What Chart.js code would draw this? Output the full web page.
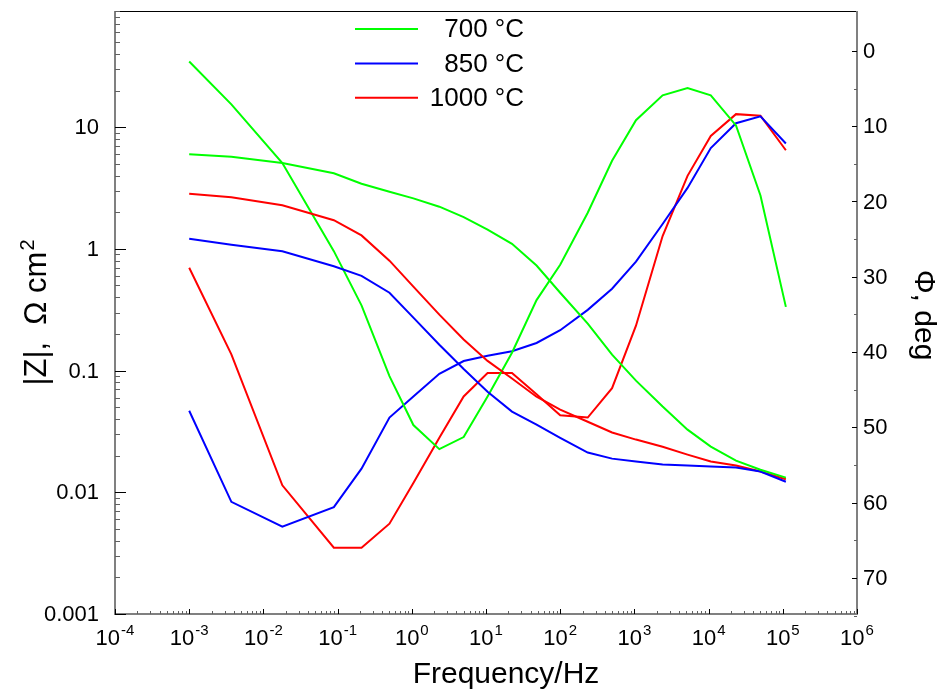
<!DOCTYPE html>
<html>
<head>
<meta charset="utf-8">
<script src="https://cdn.jsdelivr.net/npm/chart.js@4"></script>
<style>
  body { margin: 0; background: #fff; }
  canvas { display: block; }
</style>
</head>
<body>
<canvas id="bodeChart" width="946" height="693"></canvas>
<script>
// frequencies (Hz)
const freqs = [0.001, 0.0037, 0.018, 0.089, 0.21, 0.5, 1.05, 2.35, 5, 10.5, 22.4, 48, 100, 235, 500, 1050, 2400, 5200, 10700, 23400, 50000, 110000];

// |Z|, ohm cm2
const z700 = [6.0, 5.7, 5.08, 4.18, 3.43, 2.95, 2.60, 2.22, 1.82, 1.44, 1.10, 0.73, 0.436, 0.243, 0.135, 0.0826, 0.0506, 0.0327, 0.0237, 0.0182, 0.0153, 0.0132];
const z850 = [1.21, 1.08, 0.955, 0.72, 0.60, 0.436, 0.272, 0.163, 0.103, 0.067, 0.046, 0.036, 0.028, 0.0212, 0.0189, 0.0179, 0.0169, 0.0166, 0.0163, 0.0160, 0.0148, 0.0122];
const z1000 = [2.83, 2.65, 2.28, 1.72, 1.29, 0.80, 0.49, 0.288, 0.18, 0.12, 0.086, 0.061, 0.0478, 0.038, 0.031, 0.0271, 0.0237, 0.0204, 0.0179, 0.0166, 0.0148, 0.0128];

// phase, deg
const p700 = [1.4, 7.1, 14.9, 26.6, 33.8, 43.2, 49.7, 52.9, 51.3, 45.9, 40.1, 33.1, 28.4, 21.5, 14.6, 9.2, 5.9, 4.95, 5.9, 9.9, 19.2, 34.0];
const p850 = [47.8, 59.9, 63.2, 60.6, 55.5, 48.7, 45.9, 42.9, 41.2, 40.5, 39.9, 38.8, 37.1, 34.4, 31.6, 28.0, 23.0, 18.2, 12.9, 9.6, 8.7, 12.3];
const p1000 = [28.8, 40.3, 57.7, 66.0, 66.0, 62.8, 57.4, 51.4, 45.9, 42.8, 42.8, 45.6, 48.4, 48.7, 44.8, 36.5, 24.6, 16.6, 11.3, 8.4, 8.6, 13.2];

const tempLabels = ['700 °C', '850 °C', '1000 °C'];
const tempColors = ['#00ff00', '#0000ff', '#ff0000'];

// axis ticks
const freqTickExps = [-4, -3, -2, -1, 0, 1, 2, 3, 4, 5, 6];
const zTicks = [0.001, 0.01, 0.1, 1, 10];
const zTickLabels = ['0.001', '0.01', '0.1', '1', '10'];
const phaseTicks = [0, 10, 20, 30, 40, 50, 60, 70];

const FONT = '"Liberation Sans", Arial, sans-serif';

const toPoints = (vals) => vals.map((v, i) => ({ x: freqs[i], y: v }));

const makeSet = (vals, idx, axis) => ({
    label: tempLabels[idx],
    data: toPoints(vals),
    yAxisID: axis,
    borderColor: tempColors[idx],
    backgroundColor: tempColors[idx],
    borderWidth: 2,
    pointRadius: 0,
    tension: 0,
    fill: false
});

// frame, inward ticks, tick labels, titles
const axesPlugin = {
    id: 'bodeAxes',
    afterDraw(chart) {
        const { ctx, chartArea: a, scales } = chart;
        const sx = scales.x, sy = scales.y, sp = scales.y1;
        ctx.save();

        // top border
        ctx.strokeStyle = '#000';
        ctx.lineWidth = 1;
        ctx.beginPath();
        ctx.moveTo(a.left, a.top + 0.5);
        ctx.lineTo(a.right, a.top + 0.5);
        ctx.stroke();

        // left, bottom, right axes
        ctx.strokeStyle = '#808080';
        ctx.lineWidth = 2;
        ctx.beginPath();
        ctx.moveTo(a.left, a.top);
        ctx.lineTo(a.left, a.bottom);
        ctx.lineTo(a.right, a.bottom);
        ctx.lineTo(a.right, a.top);
        ctx.stroke();

        ctx.lineWidth = 1;
        // left log ticks
        for (let e = -3; e <= 1; e++) {
            for (let k = 1; k <= 9; k++) {
                const v = k * Math.pow(10, e);
                if (v > sy.max * 1.0001) continue;
                const y = Math.round(sy.getPixelForValue(v)) + 0.5;
                ctx.strokeStyle = k === 1 ? '#000' : '#606060';
                ctx.beginPath();
                ctx.moveTo(a.left, y);
                ctx.lineTo(a.left + (k === 1 ? 11 : 5), y);
                ctx.stroke();
            }
        }
        // bottom log ticks
        for (let e = -4; e <= 6; e++) {
            for (let k = 1; k <= 9; k++) {
                if (e === 6 && k > 1) continue;
                const x = Math.round(sx.getPixelForValue(k * Math.pow(10, e))) + 0.5;
                ctx.strokeStyle = k === 1 ? '#000' : '#606060';
                ctx.beginPath();
                ctx.moveTo(x, a.bottom);
                ctx.lineTo(x, a.bottom - (k === 1 ? 5 : 3));
                ctx.stroke();
            }
        }
        // right phase ticks
        for (let v = 0; v <= 75; v += 5) {
            const y = Math.round(sp.getPixelForValue(v)) + 0.5;
            ctx.strokeStyle = v % 10 === 0 ? '#000' : '#606060';
            ctx.beginPath();
            ctx.moveTo(a.right, y);
            ctx.lineTo(a.right - (v % 10 === 0 ? 5 : 3), y);
            ctx.stroke();
        }

        ctx.fillStyle = '#000';
        // left labels
        ctx.font = '22px ' + FONT;
        ctx.textAlign = 'right';
        ctx.textBaseline = 'middle';
        zTicks.forEach((v, i) => {
            ctx.fillText(zTickLabels[i], a.left - 16, sy.getPixelForValue(v) + 1);
        });
        // right labels
        ctx.textAlign = 'left';
        phaseTicks.forEach((v) => {
            ctx.fillText(String(v), a.right + 6, sp.getPixelForValue(v) + 1);
        });
        // bottom labels, 10 with superscript exponent
        ctx.textBaseline = 'alphabetic';
        freqTickExps.forEach((e) => {
            const x = sx.getPixelForValue(Math.pow(10, e));
            ctx.font = '22px ' + FONT;
            const wb = ctx.measureText('10').width;
            ctx.font = '15px ' + FONT;
            const we = ctx.measureText(String(e)).width;
            const x0 = x - (wb + we + 1) / 2;
            ctx.font = '22px ' + FONT;
            ctx.textAlign = 'left';
            ctx.fillText('10', x0, a.bottom + 31);
            ctx.font = '15px ' + FONT;
            ctx.fillText(String(e), x0 + wb + 1, a.bottom + 21);
        });

        // x title
        ctx.font = '30px ' + FONT;
        ctx.textAlign = 'center';
        ctx.fillText('Frequency/Hz', (a.left + a.right) / 2 + 20, a.bottom + 69);

        // left title, rotated
        ctx.save();
        ctx.translate(35, 313);
        ctx.rotate(-Math.PI / 2);
        ctx.font = '31px ' + FONT;
        const mainT = '|Z|,  \u03A9 cm';
        const wm = ctx.measureText(mainT).width;
        ctx.font = '20px ' + FONT;
        const ws = ctx.measureText('2').width;
        ctx.textAlign = 'left';
        ctx.font = '31px ' + FONT;
        ctx.fillText(mainT, -(wm + ws) / 2, 11);
        ctx.font = '20px ' + FONT;
        ctx.fillText('2', -(wm + ws) / 2 + wm + 1, -1);
        ctx.restore();

        // right title, rotated
        ctx.save();
        ctx.translate(926, 315);
        ctx.rotate(Math.PI / 2);
        ctx.font = '30px ' + FONT;
        ctx.textAlign = 'center';
        ctx.fillText('\u03A6, deg', 0, 11);
        ctx.restore();

        // legend
        ctx.font = '26px ' + FONT;
        ctx.textAlign = 'right';
        ctx.textBaseline = 'middle';
        tempLabels.forEach((lab, i) => {
            const y = a.top + 18 + i * 34.4;
            ctx.strokeStyle = tempColors[i];
            ctx.lineWidth = 2;
            ctx.beginPath();
            ctx.moveTo(a.left + 240, y);
            ctx.lineTo(a.left + 303, y);
            ctx.stroke();
            ctx.fillText(lab, a.left + 409, y + 1);
        });

        ctx.restore();
    }
};

new Chart(document.getElementById('bodeChart').getContext('2d'), {
    type: 'line',
    data: {
        datasets: [
            makeSet(z700, 0, 'y'),
            makeSet(z850, 1, 'y'),
            makeSet(z1000, 2, 'y'),
            makeSet(p700, 0, 'y1'),
            makeSet(p850, 1, 'y1'),
            makeSet(p1000, 2, 'y1')
        ]
    },
    options: {
        responsive: false,
        animation: false,
        devicePixelRatio: 1,
        layout: { padding: { left: 115, top: 11, right: 89, bottom: 79 } },
        plugins: { legend: { display: false }, tooltip: { enabled: false } },
        scales: {
            x: { type: 'logarithmic', min: 1e-4, max: 1e6, display: false },
            y: { type: 'logarithmic', min: 0.001, max: 90, display: false },
            y1: { type: 'linear', min: -5.3, max: 74.8, reverse: true, display: false }
        }
    },
    plugins: [axesPlugin]
});
</script>
</body>
</html>
